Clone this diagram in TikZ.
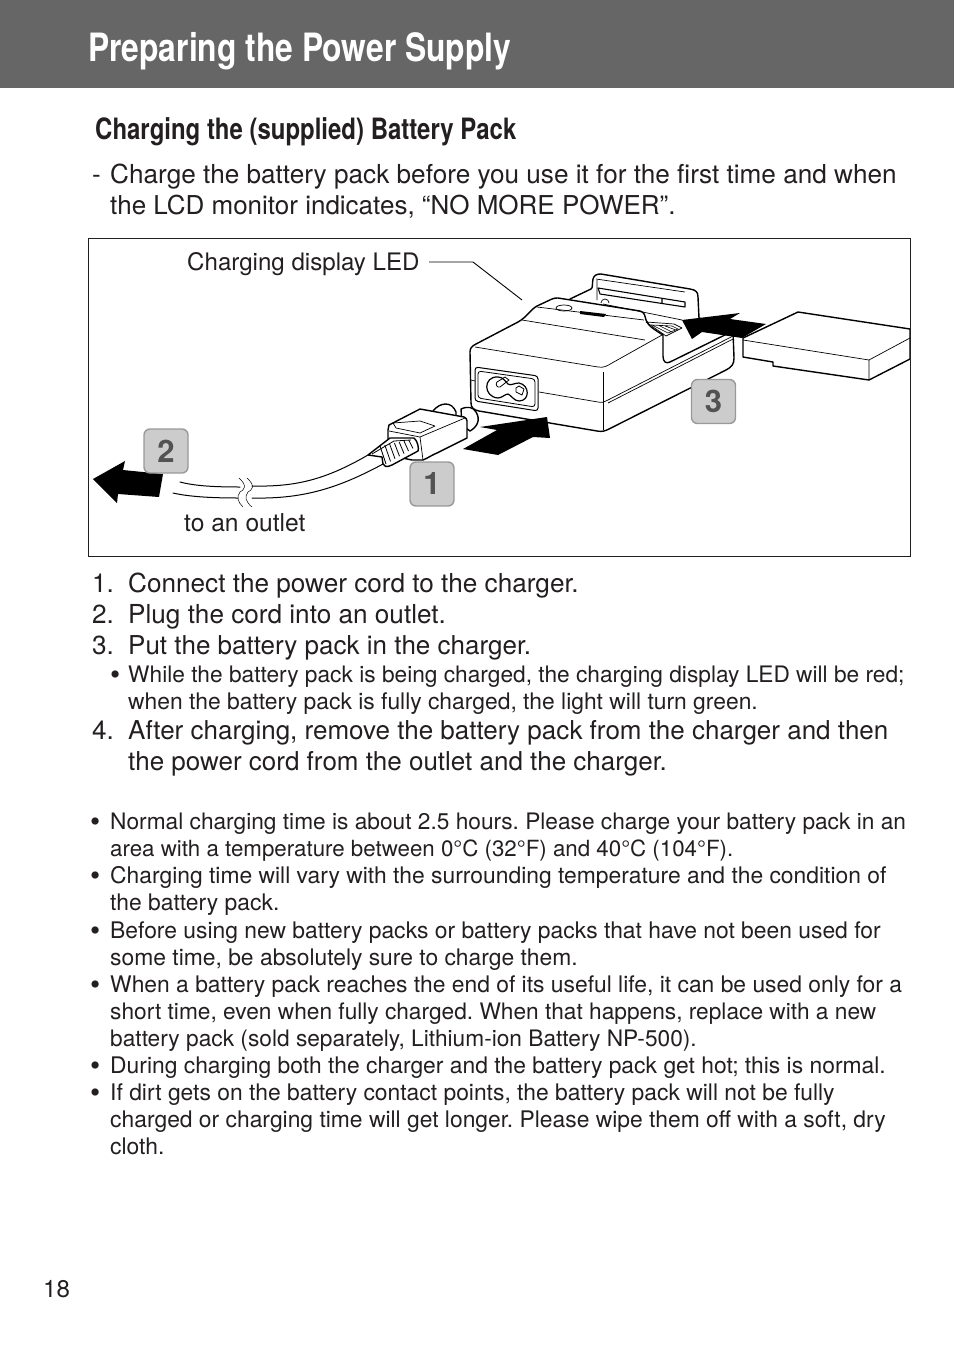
\documentclass[tikz,border=0pt]{standalone}
\usepackage{fontspec}
\setmainfont{TeX Gyre Heros}
\newfontfamily\condfont[FakeStretch=0.815]{TeX Gyre Heros}
\definecolor{ink}{HTML}{231F20}
\frenchspacing
\tikzset{
  tl/.style={anchor=base west,inner sep=0pt,text=ink,font=\fontsize{26.15}{31}\selectfont},
  tlb/.style={anchor=base west,inner sep=0pt,text=ink,font=\fontsize{26}{31}\selectfont},
  sm/.style={anchor=base west,inner sep=0pt,text=ink,font=\fontsize{22.85}{27}\selectfont},
  smb/.style={anchor=base west,inner sep=0pt,text=ink,font=\fontsize{22.7}{27}\selectfont},
  bu/.style={anchor=base west,inner sep=0pt,text=ink,font=\fontsize{29}{29}\selectfont},
  lb/.style={anchor=base west,inner sep=0pt,text=ink,font=\fontsize{24.1}{27}\selectfont},
  badge/.style={draw=black!40,fill=black!20,line width=1.4pt,rounded corners=6pt,minimum size=44pt,inner sep=0pt,text=black!68,font=\fontsize{31}{31}\selectfont\bfseries},
  bold/.style={line width=1.4pt,line join=round,line cap=round,draw=black},
  thin/.style={line width=0.7pt,line join=round,draw=black},
  blk/.style={fill=black,draw=none}
}
\begin{document}
\begin{tikzpicture}[x=1pt,y=-1pt]
\useasboundingbox (0,0) rectangle (954,1352);
\fill[black!60] (0,0) rectangle (954,88);
\node[anchor=base west,inner sep=0pt,text=white,font=\condfont\bfseries\fontsize{39}{40}\selectfont] (title) at (88,61.5) {Preparing the Power Supply};
\node[anchor=base west,inner sep=0pt,text=ink,font=\condfont\bfseries\fontsize{29.4}{32}\selectfont] (sect) at (95,139) {Charging the (supplied) Battery Pack};
\node[tl] (a0) at (92,183) {-};
\node[tl] (a1) at (110,183) {Charge the battery pack before you use it for the first time and when};
\node[tlb] (a2) at (110,214) {the LCD monitor indicates, “NO MORE POWER”.};
% frame
\draw[line width=1pt,draw=ink] (88.5,238) rectangle (910.5,556);
\node[lb] (led) at (187,270) {Charging display LED};
\node[lb,font=\fontsize{24.6}{27}\selectfont] (outlet) at (184,531) {to an outlet};
\coordinate (ledA) at (429,262);
\coordinate (ledB) at (473,262);
\coordinate (ledC) at (522,300);
\draw[line width=0.9pt] (ledA) -- (ledB) -- (ledC);
% charger back holder
\draw[bold] (570,299) -- (591,289) .. controls (593,288) and (592,284) .. (593,279) .. controls (594,275) and (597,274) .. (601,274) -- (690,289) .. controls (696,290) and (698,292) .. (698,297) -- (699,318);
\draw[thin] (596,279) -- (685,292) (597,280) -- (597,300) (603,304) -- (682,320);
\draw[line width=1.1pt,line join=round] (598,288) -- (685,302) -- (685,307) -- (600,294) -- cycle (662,299) -- (662,303);
\draw[thin] (601,303) arc (180:360:4);
% top body outline
\draw[bold] (471,403) -- (470,352) .. controls (470,348) and (472,346) .. (476,344) -- (518,322) .. controls (527,317) and (530,310) .. (537,306) -- (552,299) .. controls (554,298) and (556,298) .. (558,298) -- (640,311) .. controls (645,312) and (645,317) .. (646,320) .. controls (648,326) and (655,330) .. (663,335) -- (663,356) .. controls (663,362) and (666,364) .. (670,362) -- (733,331);
\draw[bold] (471,403) .. controls (471,408) and (474,410) .. (479,411) -- (597,431) .. controls (602,432) and (605,431) .. (609,429) -- (726,370) .. controls (732,367) and (734,364) .. (734,358) -- (733,331);
\draw[bold] (699,318) -- (733,331);
% top lines
\draw[thin] (537,307) -- (644,320);
\draw[thin] (522,320) -- (645,340);
\draw[thin] (475,347) -- (598,367) .. controls (604,368) and (607,366) .. (612,363) -- (662,335);
\draw[thin] (603,372) -- (603,430);
\draw[thin] (471,380) -- (475,381) (539,392) -- (598,402) .. controls (602,403) and (605,402) .. (608,400) -- (733,336);
\draw[thin] (608,403) -- (733,339);
\draw[thin] (564,308) ellipse [x radius=8,y radius=3];
\fill (580,311) -- (606,314) -- (604,317) -- (580,314) -- cycle;
% slot
\draw[thin] (646,322) -- (674,324) -- (682,328) -- (666,336) -- cycle;
\draw[line width=0.6pt] (652,325) -- (672,326) -- (678,329) -- (668,333) -- cycle (658,325) -- (672,332) (665,326) -- (676,330);
% socket
\draw[line width=1pt,rounded corners=3pt] (475,367) -- (538,376) -- (538,411) -- (475,401) -- cycle;
\draw[line width=0.8pt,rounded corners=3pt] (478,371) -- (535,379) -- (535,407) -- (478,398) -- cycle;
\draw[line width=1.2pt,line join=round] (498,377) .. controls (483,376) and (483,397) .. (498,398) .. controls (502,398) and (505,394) .. (508,394) .. controls (511,395) and (514,401) .. (519,401) .. controls (530,401) and (530,385) .. (519,383) .. controls (514,383) and (511,386) .. (508,384) .. controls (505,381) and (503,377) .. (498,377) -- cycle;
\draw[line width=0.8pt,line join=round] (497,382) -- (505,377) -- (509,380) -- (500,387) .. controls (497,388) and (495,384) .. (497,382) -- cycle;
\draw[line width=0.8pt,line join=round] (516,388) -- (519,386) -- (524,389) -- (522,395) -- (516,392) -- cycle;
% battery
\draw[blk] (682,320) -- (740,313) -- (730,319) -- (766,324) -- (742,338) -- (702,332) -- (692,339) -- cycle;
\draw[bold,fill=white] (743,338) -- (798,312) -- (910,329) -- (910,359) -- (869,380) -- (773,366) -- (773,362) -- (743,357) -- cycle;
\draw[thin] (743,340) -- (869,360) -- (910,338) (869,360) -- (869,380);
\draw[line width=1pt,draw=ink] (910.5,320) -- (910.5,370);
% cable
\draw[bold,line width=1pt] (180,482) .. controls (195,486) and (215,487) .. (240,487);
\draw[bold,line width=1pt] (173,493) .. controls (190,497) and (215,498) .. (238,498);
\draw[bold,line width=1pt] (252,486) .. controls (295,487) and (325,480) .. (368,455);
\draw[bold,line width=1pt] (252,498) .. controls (300,499) and (335,490) .. (383,464);
\draw[line width=0.5pt] (239,478) .. controls (248,486) and (244,490) .. (240,492) .. controls (236,497) and (238,502) .. (243,507);
\draw[line width=0.5pt] (247,478) .. controls (256,486) and (252,490) .. (248,492) .. controls (244,497) and (246,502) .. (252,507);
% plug back prongs
\draw[bold,fill=white] (433,411) .. controls (440,402) and (452,401) .. (456,412) -- (456,420) -- (435,420) -- cycle;
\draw[bold,fill=white] (461,409) .. controls (468,406) and (473,407) .. (476,412) .. controls (481,420) and (477,427) .. (470,431) -- (462,425) -- cycle;
% plug body
\draw[bold,fill=white] (389,425) -- (420,409) -- (464,417) .. controls (466,418) and (467,419) .. (467,421) -- (467,438) -- (437,453) .. controls (430,456) and (428,458) .. (423,460) -- (412,460) -- (388,455) -- (388,430) -- cycle;
\draw[thin] (389,431) -- (420,437) -- (465,418);
\draw[thin] (420,437) -- (423,460);
\draw[thin] (393,423) -- (420,421) -- (435,426) -- (420,433) -- (396,428) -- cycle;
% grip
\draw[bold,fill=white] (368,455) -- (390,438) -- (414,438) .. controls (418,441) and (419,449) .. (418,451) -- (392,465) .. controls (386,468) and (384,466) .. (383,464) -- (382,457) -- (368,455);
\foreach \g in {0,...,6}{
  \draw[line width=0.8pt] ({380+4.8*\g},{446-1*\g}) -- ({386+4.5*\g},{464-2.6*\g});
}
\draw[line width=0.8pt] (372,454) -- (394,441) -- (411,440);
% arrows
\draw[blk] (547,417) -- (480,427) -- (497,430) -- (463,449) -- (498,455) -- (533,437) -- (550,438) -- cycle;
\draw[blk] (93,479) -- (125,461) -- (123,470) -- (163,474) -- (159,497) -- (118,494) -- (117,503) -- cycle;
% badges
\node[badge] (b1) at (432,484) {1};
\node[badge] (b2) at (166,451) {2};
\node[badge] (b3) at (713.5,401.5) {3};
% numbered
\node[tl] (n1) at (92,592) {1.};
\node[tl] (n1t) at (128,592) {Connect the power cord to the charger.};
\node[tl] (n2) at (92,623) {2.};
\node[tl] (n2t) at (128,623) {Plug the cord into an outlet.};
\node[tl] (n3) at (92,654) {3.};
\node[tlb] (n3t) at (128,654) {Put the battery pack in the charger.};
\node[bu] (s0) at (110,684.5) {•};
\node[smb] (s1) at (128,682) {While the battery pack is being charged, the charging display LED will be red;};
\node[sm] (s2) at (128,709) {when the battery pack is fully charged, the light will turn green.};
\node[tl] (n4) at (92,739) {4.};
\node[tlb] (n4t) at (128,739) {After charging, remove the battery pack from the charger and then};
\node[tlb] (n4u) at (128,770) {the power cord from the outlet and the charger.};
% bullets
\node[bu] (p1) at (90,831.5) {•};
\node[smb] (q1) at (110,829) {Normal charging time is about 2.5 hours. Please charge your battery pack in an};
\node[sm,font=\fontsize{22.3}{27}\selectfont] (q2) at (110,856) {area with a temperature between 0°C (32°F) and 40°C (104°F).};
\node[bu] (p2) at (90,885.5) {•};
\node[sm] (q3) at (110,883) {Charging time will vary with the surrounding temperature and the condition of};
\node[sm] (q4) at (110,910) {the battery pack.};
\node[bu] (p3) at (90,940.5) {•};
\node[sm] (q5) at (110,938) {Before using new battery packs or battery packs that have not been used for};
\node[sm] (q6) at (110,965) {some time, be absolutely sure to charge them.};
\node[bu] (p4) at (90,994.5) {•};
\node[sm] (q7) at (110,992) {When a battery pack reaches the end of its useful life, it can be used only for a};
\node[smb] (q8) at (110,1019) {short time, even when fully charged. When that happens, replace with a new};
\node[smb] (q9) at (110,1046) {battery pack (sold separately, Lithium-ion Battery NP-500).};
\node[bu] (p5) at (90,1075.5) {•};
\node[sm] (q10) at (110,1073) {During charging both the charger and the battery pack get hot; this is normal.};
\node[bu] (p6) at (90,1102.5) {•};
\node[sm] (q11) at (110,1100) {If dirt gets on the battery contact points, the battery pack will not be fully};
\node[sm] (q12) at (110,1127) {charged or charging time will get longer. Please wipe them off with a soft, dry};
\node[sm] (q13) at (110,1154) {cloth.};
\node[lb] (page) at (43,1297) {18};
\end{tikzpicture}
\end{document}
